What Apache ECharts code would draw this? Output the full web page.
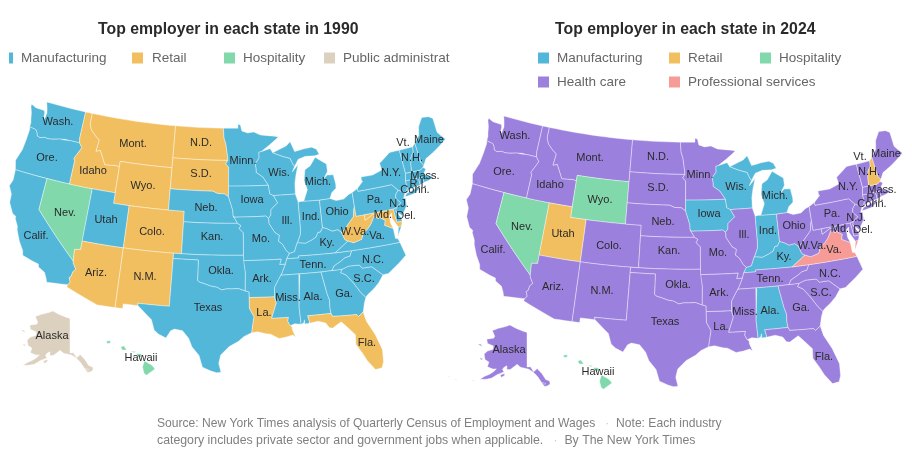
<!DOCTYPE html>
<html>
<head>
<meta charset="utf-8">
<style>html,body{margin:0;padding:0;background:#fff}#chart{width:912px;height:468px}</style>
<script src="https://cdn.jsdelivr.net/npm/echarts@6/dist/echarts.min.js"></script>
</head>
<body>
<div id="chart"></div>
<script>
/* who is top employer, by state label; every state not listed is in the base list */
var retail1990 = ['Mont.', 'Idaho', 'Wyo.', 'Colo.', 'N.D.', 'S.D.', 'Ariz.', 'N.M.', 'La.', 'Fla.', 'W.Va.', 'Md.'];
var hospitality1990 = ['Nev.', 'Hawaii'];
var publicAdmin1990 = ['Alaska'];
var manufacturing2024 = ['Wis.', 'Mich.', 'Iowa', 'Ind.', 'Ky.', 'Ala.'];
var retail2024 = ['Utah', 'N.H.'];
var hospitality2024 = ['Nev.', 'Wyo.', 'Hawaii'];
var professional2024 = ['Va.'];

var colors = {
    'Manufacturing': '#53b7da',
    'Retail': '#f2bf60',
    'Hospitality': '#80d8ab',
    'Public administration': '#dcd0bf',
    'Health care': '#9b80dd',
    'Professional services': '#f69b95'
};

/* state outlines: "west longitude latitude" pairs, one string per ring */
var stateShapes = {
    'Wash.': ['122.76 49 117.03 49 117.04 46.42 116.92 46 118.98 46 119 45.93 119.6 45.92 120.6 45.73 121.2 45.65 121.7 45.7 122.3 45.55 122.75 45.65 122.85 45.9 123.15 46.18 123.4 46.2 124.05 46.27 124.07 46.7 124.2 47 124.4 47.6 124.73 48.17 124.7 48.38 124 48.17 123.1 48.15 122.75 48.15 122.6 47.9 122.55 47.3 122.4 47.4 122.3 48 122.5 48.5'],
    'Ore.': ['124.05 46.27 123.4 46.2 123.15 46.18 122.85 45.9 122.75 45.65 122.3 45.55 121.7 45.7 121.2 45.65 120.6 45.73 119.6 45.92 119 45.93 118.98 46 116.92 46 116.47 45.6 116.85 45 117.2 44.45 117.03 44.25 117.03 42 124.21 42 124.55 42.85 124.1 44 124 45 123.95 46'],
    'Calif.': ['124.21 42 120 42 120 39 114.63 35 114.57 34.8 114.15 34.27 114.44 34 114.52 33.55 114.72 33.4 114.5 33 114.72 32.72 117.12 32.53 117.25 32.85 117.6 33.4 118.4 33.75 118.5 34.03 119.2 34.15 120.5 34.45 120.65 34.9 121.3 35.65 121.9 36.6 122 36.95 122.5 37.6 122.5 37.8 123 38 123.7 38.9 123.8 39.7 124.35 40.4 124.1 41'],
    'Nev.': ['120 42 114.04 42 114.04 36.2 114.75 36.1 114.63 35 120 39'],
    'Idaho': ['117.03 49 116.05 49 116.05 48 115.7 47.45 114.95 46.95 114.35 46.65 114.5 45.55 113.95 45.7 113.45 45.05 113 44.45 111.5 44.55 111.05 44.48 111.05 42 117.03 42 117.03 44.25 117.2 44.45 116.85 45 116.47 45.6 116.92 46 117.04 46.42'],
    'Mont.': ['116.05 49 104.05 49 104.05 45 111.05 45 111.05 44.48 111.5 44.55 113 44.45 113.45 45.05 113.95 45.7 114.5 45.55 114.35 46.65 114.95 46.95 115.7 47.45 116.05 48'],
    'Wyo.': ['111.05 45 104.05 45 104.05 41 111.05 41'],
    'Utah': ['114.04 42 111.05 42 111.05 41 109.05 41 109.05 37 114.05 37'],
    'Colo.': ['109.05 41 102.05 41 102.05 37 109.05 37'],
    'Ariz.': ['114.05 37 109.05 37 109.05 31.33 111.07 31.33 114.8 32.5 114.72 32.72 114.5 33 114.72 33.4 114.52 33.55 114.44 34 114.15 34.27 114.57 34.8 114.63 35 114.75 36.1 114.04 36.2'],
    'N.M.': ['109.05 37 103 37 103.04 32 106.62 32 106.53 31.78 108.2 31.78 108.2 31.33 109.05 31.33'],
    'N.D.': ['104.05 49 97.23 49 97.1 48 96.85 47.5 96.6 46.3 96.56 45.93 104.05 45.94'],
    'S.D.': ['104.05 45.94 96.56 45.93 96.85 45.6 96.45 45.3 96.45 43.5 96.44 43.1 96.45 42.49 97 42.77 97.9 42.8 98.5 43 104.05 43'],
    'Neb.': ['104.05 43 98.5 43 97.9 42.8 97 42.77 96.45 42.49 96.1 41.7 95.9 41.2 95.85 40.7 95.31 40 102.05 40 102.05 41 104.05 41'],
    'Kan.': ['102.05 40 95.31 40 94.9 39.8 95.1 39.5 94.6 39.1 94.62 37 102.05 37'],
    'Okla.': ['103 37 94.62 37 94.43 35.4 94.48 33.64 95.3 33.88 96 33.85 96.6 33.85 97.2 33.75 97.7 33.98 98.5 34.1 99.2 34.3 99.7 34.4 100 34.56 100 36.5 103 36.5'],
    'Texas': ['106.62 32 103.04 32 103 36.5 100 36.5 100 34.56 99.7 34.4 99.2 34.3 98.5 34.1 97.7 33.98 97.2 33.75 96.6 33.85 96 33.85 95.3 33.88 94.48 33.64 94.04 33.55 94.04 33.02 94.04 31.99 93.55 31.2 93.7 30.5 93.85 29.7 94.7 29.35 95.3 28.9 96.3 28.4 97.2 27.6 97.4 26.8 97.15 25.96 97.6 25.9 98.2 26.05 99.1 26.4 99.5 27.5 100.3 28.3 100.7 29.1 101.4 29.77 102.3 29.88 102.7 29.7 103.15 28.98 104 29.3 104.5 29.65 104.9 30.6 106 31.4 106.53 31.78'],
    'Minn.': ['97.23 49 95.15 49 95.15 49.38 94.8 49.3 94.6 48.72 93.8 48.53 92.9 48.6 92 48.3 91 48.2 90 48.1 89.5 48 90.8 47.3 92 46.7 92.3 46.66 92.3 46.1 92.85 45.6 92.75 45.1 92.75 44.75 91.9 44.3 91.22 43.5 96.45 43.5 96.45 45.3 96.85 45.6 96.56 45.93 96.6 46.3 96.85 47.5 97.1 48'],
    'Iowa': ['96.45 43.5 91.22 43.5 91.1 42.7 90.64 42.5 90.15 41.8 91.05 41.2 91.1 40.7 91.42 40.38 91.73 40.61 95.77 40.58 95.85 40.7 95.9 41.2 96.1 41.7 96.45 42.49 96.44 43.1'],
    'Wis.': ['92 46.7 91 46.9 90.75 46.95 90.4 46.55 89.1 46.14 88.1 45.9 87.8 45.35 87.6 45.1 87.95 44.6 87.1 45.25 87.5 44.3 87.75 43.5 87.8 42.5 90.64 42.5 91.1 42.7 91.22 43.5 91.9 44.3 92.75 44.75 92.75 45.1 92.85 45.6 92.3 46.1 92.3 46.66'],
    'Ill.': ['90.64 42.5 87.8 42.5 87.53 41.7 87.53 39.35 87.6 38.7 88 38 88.1 37.9 88.5 37.1 89.15 36.98 89.5 37.3 89.9 37.9 90.35 38.2 90.2 38.75 90.7 39 91.4 39.9 91.42 40.38 91.1 40.7 91.05 41.2 90.15 41.8'],
    'Ind.': ['87.53 41.7 87.2 41.76 86.8 41.76 84.8 41.7 84.82 39.1 85.15 38.7 85.45 38.7 85.75 38.27 86.3 38.05 87.1 37.8 87.9 37.9 88.1 37.9 88 38 87.6 38.7 87.53 39.35'],
    'Ohio': ['84.8 41.7 83.45 41.73 82.7 41.45 81.7 41.5 81 41.85 80.52 41.97 80.52 40.64 80.65 40.4 80.85 39.7 81.75 39 82.2 38.6 82.6 38.42 83 38.72 83.7 38.65 84.3 38.95 84.82 39.1'],
    'Ky.': ['84.82 39.1 84.3 38.95 83.7 38.65 83 38.72 82.6 38.42 82.3 37.7 81.97 37.54 83.68 36.6 88.07 36.68 88.07 36.5 89.5 36.5 89.15 36.98 88.5 37.1 88.1 37.9 87.9 37.9 87.1 37.8 86.3 38.05 85.75 38.27 85.45 38.7 85.15 38.7'],
    'Tenn.': ['89.5 36.5 88.07 36.5 88.07 36.68 83.68 36.6 81.68 36.59 82 36.1 82.6 36.03 83.1 35.77 84 35.4 84.32 34.99 85.6 34.98 88.2 35 90.3 35 90.1 35.3 89.7 36'],
    'Mo.': ['95.77 40.58 91.73 40.61 91.42 40.38 91.4 39.9 90.7 39 90.2 38.75 90.35 38.2 89.9 37.9 89.5 37.3 89.15 36.98 89.5 36.5 89.7 36 90.37 36 90.15 36.5 94.62 36.5 94.62 37 94.6 39.1 95.1 39.5 94.9 39.8 95.31 40 95.85 40.7'],
    'Ark.': ['94.62 36.5 90.15 36.5 90.37 36 89.7 36 90.1 35.3 90.3 35 90.6 34.6 91.1 33.9 91.17 33 94.04 33.02 94.04 33.55 94.48 33.64 94.43 35.4'],
    'La.': ['94.04 33.02 91.17 33 91 32.4 91.6 31 89.73 31 89.85 30.65 89.6 30.2 89.4 30.05 89.4 29.8 89.1 29.1 89.4 29.3 90.1 29.15 90.9 29.05 91.8 29.5 92.3 29.55 93.2 29.77 93.85 29.7 93.7 30.5 93.55 31.2 94.04 31.99'],
    'Miss.': ['90.3 35 88.2 35 88.1 34.9 88.47 31.9 88.4 30.25 89.1 30.35 89.6 30.2 89.85 30.65 89.73 31 91.6 31 91 32.4 91.17 33 91.1 33.9 90.6 34.6'],
    'Ala.': ['88.2 35 85.6 34.98 85.18 32.87 85 32.3 85.05 31.55 85 31 87.6 31 87.45 30.4 87.5 30.28 88 30.25 88 30.65 88.1 30.35 88.4 30.25 88.47 31.9 88.1 34.9'],
    'Ga.': ['85.6 34.98 84.32 34.99 83.1 35 83.35 34.7 82.75 34.4 82 33.5 81.4 32.6 80.9 32.05 81.15 31.6 81.45 30.72 82.05 30.37 82.2 30.57 84.86 30.7 85 31 85.05 31.55 85 32.3 85.18 32.87'],
    'Fla.': ['87.6 31 85 31 84.86 30.7 82.2 30.57 82.05 30.37 81.45 30.72 81.25 29.8 80.55 28.45 80.05 26.9 80.15 25.75 80.4 25.2 81.1 25.13 81.8 26.1 82.2 26.9 82.75 27.8 82.65 28.7 83.4 29.5 84 30.1 85 29.6 85.35 29.68 85.7 30.15 86.5 30.4 87.5 30.28 87.45 30.4'],
    'S.C.': ['83.1 35 82.35 35.2 81.05 35.15 80.8 34.82 79.67 34.8 78.55 33.86 79.2 33.2 79.9 32.7 80.7 32.25 80.9 32.05 81.4 32.6 82 33.5 82.75 34.4 83.35 34.7'],
    'N.C.': ['81.68 36.59 75.87 36.55 75.5 35.25 76.5 34.65 77.9 33.9 78.55 33.86 79.67 34.8 80.8 34.82 81.05 35.15 82.35 35.2 83.1 35 84.32 34.99 84 35.4 83.1 35.77 82.6 36.03 82 36.1'],
    'Va.': ['83.68 36.6 81.97 37.54 81.3 37.3 80.3 37.5 80 38 79.3 38.42 78.87 38.77 78.35 39.4 77.83 39.13 77.72 39.32 77.5 39.1 77.05 38.85 77.25 38.4 76.3 37.95 76.3 37.5 76.3 37 76 36.9 75.87 36.55 81.68 36.59', '75.95 37.15 75.65 37.95 75.25 38.03'],
    'W.Va.': ['80.52 40.64 80.52 39.72 79.48 39.72 79.48 39.2 78.4 39.62 77.83 39.6 77.72 39.32 77.83 39.13 78.35 39.4 78.87 38.77 79.3 38.42 80 38 80.3 37.5 81.3 37.3 81.97 37.54 82.3 37.7 82.6 38.42 82.2 38.6 81.75 39 80.85 39.7 80.65 40.4'],
    'Pa.': ['80.52 41.97 79.76 42.27 79.76 42 75.35 42 74.7 41.36 75.13 40.98 75.2 40.65 74.72 40.15 75.4 39.8 75.79 39.72 79.48 39.72 80.52 39.72 80.52 40.64'],
    'Md.': ['79.48 39.72 75.79 39.72 75.7 38.46 75.05 38.45 75.25 38.03 75.65 37.95 75.85 38.3 76.2 38.9 76.1 39.4 76.45 39.2 76.5 38.5 76.3 37.95 77.25 38.4 77.05 38.85 77.5 39.1 77.72 39.32 77.83 39.6 78.4 39.62 79.48 39.2'],
    'Del.': ['75.79 39.72 75.4 39.8 75.55 39.45 75.1 38.8 75.05 38.45 75.7 38.46'],
    'N.J.': ['75.13 40.98 74.7 41.36 73.9 41 74.25 40.5 74 40.45 74.1 39.75 74.9 38.93 75.55 39.5 75.4 39.8 74.72 40.15 75.2 40.65'],
    'N.Y.': ['79.76 42.27 79.76 42 75.35 42 74.7 41.36 73.9 41 73.73 41.1 73.5 41.3 73.5 42.05 73.27 42.75 73.35 45 74.7 45 75.8 44.45 76.3 44.2 76.2 43.55 77.5 43.25 79.05 43.27 79.05 42.85 78.9 42.87', '74.03 40.6 73.75 40.88 72.3 41.15 71.87 41.07 72.8 40.7'],
    'Conn.': ['73.5 42.05 71.8 42.02 71.8 41.35 72.9 41.25 73.73 41.1 73.5 41.3'],
    'R.I.': ['71.8 42.02 71.38 42.02 71.2 41.5 71.8 41.35'],
    'Mass.': ['73.5 42.05 73.27 42.75 72.45 42.73 71.3 42.7 70.9 42.88 70.6 42.65 71 42.3 70.6 41.95 70 41.8 70 42.05 70.25 42.05 69.95 41.7 70.65 41.55 71.2 41.5 71.38 42.02 71.8 42.02'],
    'Vt.': ['73.35 45 71.5 45 71.6 44.5 72.05 44.1 72.3 43.5 72.45 42.73 73.27 42.75'],
    'N.H.': ['71.5 45 71.1 45.3 70.98 43.4 70.7 43.05 70.9 42.88 71.3 42.7 72.45 42.73 72.3 43.5 72.05 44.1 71.6 44.5'],
    'Maine': ['71.1 45.3 70.3 45.9 70 46.7 69.25 47.45 68.3 47.35 67.8 47.07 67.8 45.7 67.45 45.3 67 44.85 68 44.4 69 44 70.2 43.6 70.7 43.05 70.98 43.4'],
    'Mich.': ['86.8 41.76 84.8 41.7 83.45 41.73 83.1 42.25 82.5 42.6 82.45 43 82.6 43.9 83.4 43.95 83.9 43.65 83.3 44.3 83.3 45 84.7 45.75 85.5 45 86.25 44.7 86.5 43.7 86.2 42.8', '90.4 46.55 89.1 46.14 88.1 45.9 87.8 45.35 87.6 45.1 87 45.75 86 45.95 84.75 45.9 84.1 46 84.4 46.5 85 46.75 86.1 46.67 87.4 46.5 87.9 47.47 88.5 47.1'],
    'Alaska': ['141 69.65 141 60.3 139.1 60.35 137.5 58.95 135.5 59.75 133.4 58.4 131.8 56.6 130 56 130 55.2 131.5 54.8 133 54.8 134 56 135.5 57.5 136.5 58.2 138 59 140 59.7 142.5 60 144.5 60.2 146.5 60.9 148.5 60 150 59.3 151.7 59.2 152 60.2 153.5 59.6 154 59 153 58.4 156 57.4 158.5 56 161 55.3 163.5 54.8 162 55.9 160 56.8 158 58 157.2 58.8 158.8 58.5 162 58.7 162 60 164.5 60.3 166 61.6 164.8 62.7 162 63.6 162.5 64.5 166.5 64.6 168 65.6 164 66.5 163.7 67.1 166.8 68.35 163 69.5 155 71.2 152 70.85 146 70.2', '154.5 57.5 152.5 58 152.4 57.5 153.9 56.8', '165.3 54.2 166.8 53.5 167.2 53.4 166.2 53.9', '168.8 53.3 169.5 52.8 170 52.9', '172.5 52.2 174.5 52.05 174.5 52.2', '176 51.9 177.5 51.7 177.5 51.9', '171.7 63.4 168.8 63.2 170 63.7', '167.5 60.2 165.7 60.3 166.3 59.8', '133.5 55.9 132 55.5 133.2 55'],
    'Hawaii': ['159.75 22.1 159.35 22.2 159.3 21.95 159.6 21.9', '158.25 21.55 157.95 21.7 157.65 21.3 158.1 21.3', '157.3 21.2 156.7 21.15 156.9 21.05', '156.7 20.95 156.25 20.95 156 20.75 156.4 20.6', '155.85 20.27 155.1 19.85 154.8 19.5 155.65 18.92 155.9 19.1 156.05 19.7']
};

/* where each state label sits, in px of the 1990 panel */
var labelAt = {
    'Wash.': [58, 122], 'Ore.': [47, 158], 'Calif.': [36, 236], 'Nev.': [65, 213], 'Idaho': [93, 171],
    'Utah': [106, 220], 'Mont.': [133, 144], 'Wyo.': [143, 186], 'Colo.': [152, 232], 'Ariz.': [96, 273],
    'N.M.': [145, 277], 'N.D.': [201, 143], 'S.D.': [201, 174], 'Neb.': [206, 208], 'Kan.': [212, 237],
    'Okla.': [221, 271], 'Texas': [208, 308], 'Minn.': [243, 161], 'Iowa': [252, 200], 'Mo.': [261, 239],
    'Ark.': [262, 279], 'La.': [264, 313], 'Wis.': [279, 173], 'Ill.': [287, 221], 'Mich.': [318, 182],
    'Ind.': [311, 217], 'Ohio': [337, 212], 'Ky.': [327, 243], 'Tenn.': [313, 265], 'Miss.': [288, 298],
    'Ala.': [313, 297], 'Ga.': [344, 294], 'S.C.': [364, 279], 'N.C.': [373, 260], 'Fla.': [367, 343],
    'W.Va.': [355, 232], 'Va.': [377, 236], 'Pa.': [375, 200], 'N.Y.': [391, 173], 'N.J.': [399, 204],
    'Md.': [383, 215], 'Del.': [406, 216], 'Conn.': [415, 190], 'R.I.': [418, 184], 'Mass.': [425, 176],
    'N.H.': [412, 158], 'Vt.': [403, 143], 'Maine': [429, 140], 'Alaska': [52, 336], 'Hawaii': [141, 358]
};

var fontName = '"Liberation Sans", Arial, sans-serif';
var rad = Math.PI / 180;

// albers conic, same formula as d3
function albers(lon0, lat0, p1, p2, k, tx, ty) {
    var n = (Math.sin(p1 * rad) + Math.sin(p2 * rad)) / 2;
    var c = Math.cos(p1 * rad) * Math.cos(p1 * rad) + 2 * n * Math.sin(p1 * rad);
    var r0 = Math.sqrt(c - 2 * n * Math.sin(lat0 * rad)) / n;
    return {
        fwd: function (lon, lat) {
            var r = Math.sqrt(c - 2 * n * Math.sin(lat * rad)) / n;
            var t = n * (lon - lon0) * rad;
            return [tx + k * r * Math.sin(t), ty - k * (r0 - r * Math.cos(t))];
        },
        inv: function (x, y) {
            var a = (x - tx) / k;
            var b = r0 - (ty - y) / k;
            var r = Math.sqrt(a * a + b * b);
            return [lon0 + Math.atan2(a, b) / n / rad, Math.asin((c - r * r * n * n) / (2 * n)) / rad];
        }
    };
}

var lower48 = albers(-96, 37.5, 29.5, 45.5, 605, 232, 250);
var alaskaInset = albers(-141, 60.3, 55, 65, 212, 70, 353);
var hawaiiInset = albers(-155.5, 19.6, 8, 18, 605, 148, 368);

function project(pt) {
    if (pt[0] < -129.5 && pt[1] > 50) return alaskaInset.fwd(pt[0], pt[1]);
    if (pt[0] < -150 && pt[1] < 30) return hawaiiInset.fwd(pt[0], pt[1]);
    return lower48.fwd(pt[0], pt[1]);
}

// long straight borders follow the parallels, so split them up before projecting
function parseRing(str) {
    var nums = str.split(' ').map(Number);
    var pts = [];
    for (var i = 0; i < nums.length; i += 2) pts.push([-nums[i], nums[i + 1]]);
    pts.push(pts[0]);
    var out = [];
    for (var j = 0; j < pts.length - 1; j++) {
        var steps = Math.ceil(Math.abs(pts[j + 1][0] - pts[j][0]));
        if (steps < 1) steps = 1;
        for (var s = 0; s < steps; s++) {
            out.push([pts[j][0] + (pts[j + 1][0] - pts[j][0]) * s / steps,
                      pts[j][1] + (pts[j + 1][1] - pts[j][1]) * s / steps]);
        }
    }
    out.push(pts[0]);
    return out;
}

var minX = 1e9, minY = 1e9, maxX = -1e9, maxY = -1e9;
var features = Object.keys(stateShapes).map(function (name) {
    var rings = stateShapes[name].map(parseRing);
    rings.forEach(function (ring) {
        ring.forEach(function (pt) {
            var p = project(pt);
            minX = Math.min(minX, p[0]); maxX = Math.max(maxX, p[0]);
            minY = Math.min(minY, p[1]); maxY = Math.max(maxY, p[1]);
        });
    });
    var inv = name == 'Alaska' ? alaskaInset : name == 'Hawaii' ? hawaiiInset : lower48;
    return {
        type: 'Feature',
        properties: { name: name, cp: inv.inv(labelAt[name][0], labelAt[name][1]) },
        geometry: { type: 'MultiPolygon', coordinates: rings.map(function (r) { return [r]; }) }
    };
});
var usGeo = { type: 'FeatureCollection', features: features };
echarts.registerMap('us1990', usGeo);
echarts.registerMap('us2024', usGeo);

function stateData(base, groups) {
    return Object.keys(stateShapes).map(function (name) {
        var cat = base;
        groups.forEach(function (g) {
            if (g[1].indexOf(name) >= 0) cat = g[0];
        });
        return { name: name, value: 1, itemStyle: { areaColor: colors[cat] } };
    });
}

function mapSeries(mapName, data, dx, dy) {
    return {
        type: 'map',
        map: mapName,
        projection: {
            project: project,
            unproject: function (p) { return lower48.inv(p[0], p[1]); }
        },
        aspectScale: 1,
        left: minX + dx,
        top: minY + dy,
        width: maxX - minX,
        height: maxY - minY,
        silent: true,
        data: data,
        itemStyle: { borderColor: 'rgba(255,255,255,0.65)', borderWidth: 0.6 },
        label: { show: true, formatter: '{b}', color: '#2b2b2b', fontFamily: fontName, fontSize: 11 },
        emphasis: { disabled: true },
        select: { disabled: true }
    };
}

function legendItem(x, y, w, name, tx, maxW) {
    return [{
        type: 'rect',
        shape: { x: x, y: y - 5.5, width: w, height: 11 },
        style: { fill: colors[name] }
    }, {
        type: 'text',
        x: tx,
        y: y,
        style: {
            text: name, fill: '#666', font: '13.5px ' + fontName,
            textVerticalAlign: 'middle', width: maxW, overflow: maxW ? 'truncate' : 'none', ellipsis: ''
        }
    }];
}

var legendParts = [].concat(
    legendItem(9, 58, 4, 'Manufacturing', 21),
    legendItem(132, 58, 11, 'Retail', 152),
    legendItem(224, 58, 11, 'Hospitality', 243),
    legendItem(324, 58, 11, 'Public administration', 343, 108),
    legendItem(538, 58, 11, 'Manufacturing', 557),
    legendItem(669, 58, 11, 'Retail', 688),
    legendItem(760, 58, 11, 'Hospitality', 779),
    legendItem(538, 82, 11, 'Health care', 557),
    legendItem(669, 82, 11, 'Professional services', 688)
);

var footer = [
    { y: 424, size: 12.1, text: 'Source: New York Times analysis of Quarterly Census of Employment and Wages   {d|·}  Note: Each industry' },
    { y: 441, size: 12.3, text: 'category includes private sector and government jobs when applicable.   {d|·}  By The New York Times' }
].map(function (l) {
    return {
        type: 'text', x: 157, y: l.y,
        style: {
            text: l.text, fill: '#808080', font: l.size + 'px ' + fontName, textVerticalAlign: 'middle',
            rich: { d: { fill: '#ccc', font: l.size + 'px ' + fontName } }
        }
    };
});

var chart = echarts.init(document.getElementById('chart'));
chart.setOption({
    animation: false,
    backgroundColor: '#fff',
    title: [
        { text: 'Top employer in each state in 1990', left: 93, top: 17,
          textStyle: { color: '#2a2a2a', fontFamily: fontName, fontWeight: 'bold', fontSize: 15.8 } },
        { text: 'Top employer in each state in 2024', left: 550, top: 17,
          textStyle: { color: '#2a2a2a', fontFamily: fontName, fontWeight: 'bold', fontSize: 15.8 } }
    ],
    graphic: { elements: legendParts.concat(footer) },
    series: [
        mapSeries('us1990', stateData('Manufacturing', [
            ['Retail', retail1990], ['Hospitality', hospitality1990], ['Public administration', publicAdmin1990]
        ]), 0, 0),
        mapSeries('us2024', stateData('Health care', [
            ['Manufacturing', manufacturing2024], ['Retail', retail2024],
            ['Hospitality', hospitality2024], ['Professional services', professional2024]
        ]), 457, 14)
    ]
});
</script>
</body>
</html>
